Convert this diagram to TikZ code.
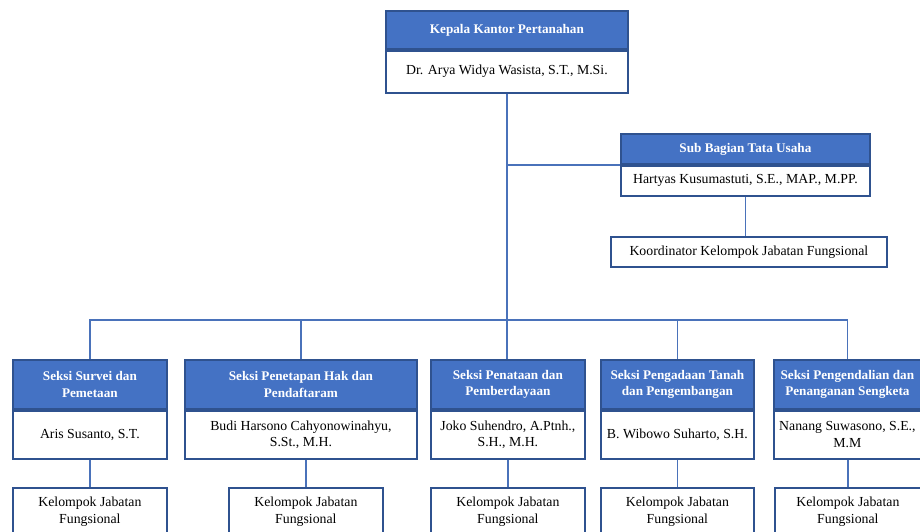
\documentclass[tikz,border=0pt]{standalone}
\usepackage{fontspec}
\setmainfont{Liberation Serif}
\usetikzlibrary{positioning}
\definecolor{hdblue}{HTML}{4472C4}
\definecolor{edgeblue}{HTML}{2F528F}
\definecolor{linkblue}{HTML}{4A72BA}
\tikzstyle{head} = [rectangle, draw=edgeblue, line width=1.8pt, fill=hdblue, text=white, font=\fontsize{13.2}{16.5}\selectfont\bfseries, align=center, anchor=north west, inner sep=0pt]
\tikzstyle{body} = [rectangle, draw=edgeblue, line width=1.8pt, fill=white, font=\fontsize{13.8}{16.5}\selectfont, align=center, inner sep=0pt]
\tikzstyle{link} = [draw=linkblue, line width=1.8pt]

\begin{document}
\begin{tikzpicture}[x=1pt, y=-1pt]
    \useasboundingbox (0,0) rectangle (920,532);
    \clip (0,0) rectangle (920,532);

    % Pimpinan
    \node[head, minimum width=242pt, minimum height=38pt] (kepalaH) at (385,10) {Kepala Kantor Pertanahan};
    \node[body, below=0pt of kepalaH, minimum width=242pt, minimum height=42pt] (kepalaN) {Dr. Arya Widya Wasista, S.T., M.Si.};

    \node[head, minimum width=249pt, minimum height=30pt] (subbagH) at (620,133) {Sub Bagian Tata Usaha};
    \node[body, below=0pt of subbagH, minimum width=249pt, minimum height=30pt] (subbagN) {Hartyas Kusumastuti, S.E., MAP., M.PP.};
    \node[body, anchor=north west, minimum width=276pt, minimum height=30pt] (koordinator) at (610,236) {Koordinator Kelompok Jabatan Fungsional};

    % Seksi
    \node[head, minimum width=154pt, minimum height=49pt] (s1H) at (12,359) {Seksi Survei dan\\Pemetaan};
    \node[body, below=0pt of s1H, minimum width=154pt, minimum height=48pt] (s1N) {Aris Susanto, S.T.};
    \node[head, minimum width=232pt, minimum height=49pt] (s2H) at (184,359) {Seksi Penetapan Hak dan\\Pendaftaram};
    \node[body, below=0pt of s2H, minimum width=232pt, minimum height=48pt] (s2N) {Budi Harsono Cahyonowinahyu,\\S.St., M.H.};
    \node[head, minimum width=154pt, minimum height=49pt] (s3H) at (430,359) {Seksi Penataan dan\\Pemberdayaan};
    \node[body, below=0pt of s3H, minimum width=154pt, minimum height=48pt] (s3N) {Joko Suhendro, A.Ptnh.,\\S.H., M.H.};
    \node[head, minimum width=153pt, minimum height=49pt] (s4H) at (600,359) {Seksi Pengadaan Tanah\\dan Pengembangan};
    \node[body, below=0pt of s4H, minimum width=153pt, minimum height=48pt] (s4N) {B. Wibowo Suharto, S.H.};
    \node[head, minimum width=147pt, minimum height=49pt] (s5H) at (773,359) {Seksi Pengendalian dan\\Penanganan Sengketa};
    \node[body, below=0pt of s5H, minimum width=147pt, minimum height=48pt] (s5N) {Nanang Suwasono, S.E.,\\M.M};

    % Kelompok Jabatan Fungsional
    \node[body, anchor=north west, minimum width=154pt, minimum height=48pt] (k1) at (12,487) {Kelompok Jabatan\\Fungsional};
    \node[body, anchor=north west, minimum width=154pt, minimum height=48pt] (k2) at (228,487) {Kelompok Jabatan\\Fungsional};
    \node[body, anchor=north west, minimum width=154pt, minimum height=48pt] (k3) at (430,487) {Kelompok Jabatan\\Fungsional};
    \node[body, anchor=north west, minimum width=153pt, minimum height=48pt] (k4) at (600,487) {Kelompok Jabatan\\Fungsional};
    \node[body, anchor=north west, minimum width=146pt, minimum height=48pt] (k5) at (774,487) {Kelompok Jabatan\\Fungsional};

    % Garis
    \coordinate (bus) at (505,320);
    \draw[link] (kepalaN.south) -- (kepalaN.south |- s3H.north);
    \draw[link] (s1H.north) |- (bus) -| (s5H.north);
    \draw[link] (s2H.north) -- (s2H.north |- bus);
    \draw[link] (s4H.north) -- (s4H.north |- bus);
    \draw[link] (subbagH.south west) -- (subbagH.south west -| kepalaN.south);
    \draw[link] (subbagN.south) -- (subbagN.south |- koordinator.north);
    \draw[link] (s1N.south) -- (k1.north);
    \draw[link] (k2.north |- s2N.south) -- (k2.north);
    \draw[link] (s3N.south) -- (k3.north);
    \draw[link] (s4N.south) -- (k4.north);
    \draw[link] (k5.north |- s5N.south) -- (k5.north);
\end{tikzpicture}
\end{document}
